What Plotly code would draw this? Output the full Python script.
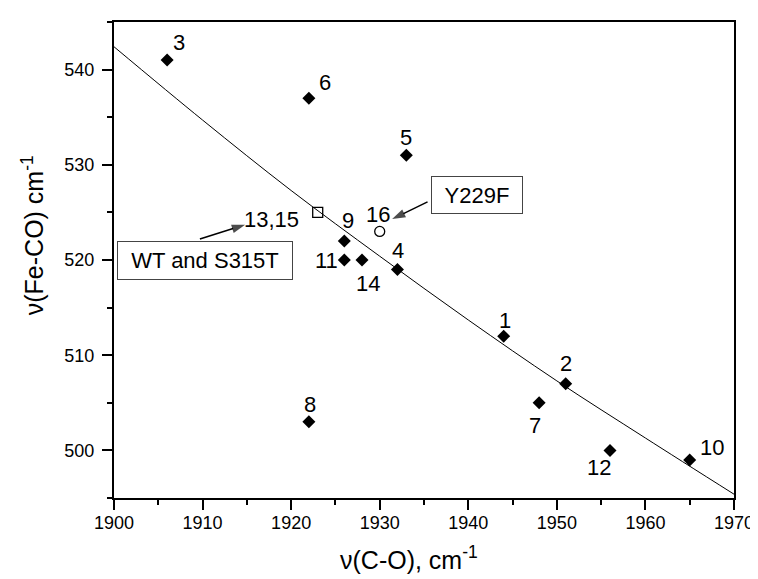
import plotly.graph_objects as go

# Data
labels = ["1", "2", "3", "4", "5", "6", "7", "8", "9", "10", "11", "12", "14"]
nu_co = [1944, 1951, 1906, 1932, 1933, 1922, 1948, 1922, 1926, 1965, 1926, 1956, 1928]
nu_feco = [512, 507, 541, 519, 531, 537, 505, 503, 522, 499, 520, 500, 520]

wt_label = ["13,15"]
wt_x = [1923]
wt_y = [525]

y229f_label = ["16"]
y229f_x = [1930]
y229f_y = [523]

fit_x = [1900, 1910, 1920, 1930, 1940, 1950, 1960, 1970]
fit_y = [542.4, 534.7, 527.3, 520.4, 513.7, 507.3, 501.3, 495.4]

x_ticks = [1900, 1910, 1920, 1930, 1940, 1950, 1960, 1970]
y_ticks = [500, 510, 520, 530, 540]

# label offsets in pixels (dx right, dy down)
label_offsets = {
    "1": (1, -16), "2": (0, -20), "3": (12, -18), "4": (1, -19), "5": (0, -18),
    "6": (16, -16), "7": (-4, 23), "8": (1, -17), "9": (4, -20), "10": (22, -12),
    "11": (-18, 0), "12": (-11, 17), "14": (6, 23), "13,15": (-46, 7), "16": (-2, -17),
}

FONT = "Liberation Sans, Arial, sans-serif"

fig = go.Figure()

fig.add_trace(go.Scatter(
    x=fit_x, y=fit_y, mode="lines", line=dict(color="black", width=1, shape="spline"),
    showlegend=False, hoverinfo="skip"))

fig.add_trace(go.Scatter(
    x=nu_co, y=nu_feco, mode="markers",
    marker=dict(symbol="diamond", size=10, color="black", line=dict(width=0)),
    showlegend=False))

fig.add_trace(go.Scatter(
    x=wt_x, y=wt_y, mode="markers",
    marker=dict(symbol="square-open", size=10, color="black", line=dict(width=1.3)),
    showlegend=False))

fig.add_trace(go.Scatter(
    x=y229f_x, y=y229f_y, mode="markers",
    marker=dict(symbol="circle-open", size=10, color="black", line=dict(width=1.3)),
    showlegend=False))

# callout arrows (tail -> head)
for ax_, ay_, hx, hy in [(1909.7, 522.2, 1914.8, 523.7), (1935.4, 526.1, 1931.4, 524.3)]:
    fig.add_trace(go.Scatter(
        x=[ax_, hx], y=[ay_, hy], mode="lines+markers",
        line=dict(color="black", width=1.5),
        marker=dict(symbol=["circle", "arrow"], size=[0, 14], color="black",
                    angleref="previous", line=dict(width=0)),
        showlegend=False, hoverinfo="skip"))

annotations = []
for lab, xv, yv in list(zip(labels, nu_co, nu_feco)) + \
        list(zip(wt_label, wt_x, wt_y)) + list(zip(y229f_label, y229f_x, y229f_y)):
    dx, dy = label_offsets[lab]
    annotations.append(dict(
        x=xv, y=yv, xref="x", yref="y", text=lab, showarrow=False,
        xshift=dx, yshift=-dy, font=dict(family=FONT, size=22, color="black")))

# boxed labels
annotations.append(dict(
    x=1910.3, y=519.9, xref="x", yref="y", text="WT and S315T", showarrow=False,
    font=dict(family=FONT, size=22, color="black"), bordercolor="#444", borderwidth=1,
    borderpad=3, width=168, height=31, bgcolor="white"))
annotations.append(dict(
    x=1940.95, y=526.8, xref="x", yref="y", text="Y229F", showarrow=False,
    font=dict(family=FONT, size=22, color="black"), bordercolor="#444", borderwidth=1,
    borderpad=3, width=84, height=30, bgcolor="white"))

# axis titles
annotations.append(dict(
    x=0.4757, y=-0.125, xref="paper", yref="paper", text="ν(C-O), cm<sup>-1</sup>",
    showarrow=False, xanchor="center", yanchor="middle",
    font=dict(family=FONT, size=25, color="black")))
annotations.append(dict(
    x=0, y=0.552, xref="paper", yref="paper", xshift=-81, text="ν(Fe-CO) cm<sup>-1</sup>",
    showarrow=False, xanchor="center", yanchor="middle", textangle=-90,
    font=dict(family=FONT, size=25, color="black")))

fig.update_layout(
    width=758, height=579,
    margin=dict(l=106, r=27, t=13, b=89),
    paper_bgcolor="white", plot_bgcolor="white",
    font=dict(family=FONT, size=18, color="black"),
    annotations=annotations,
    showlegend=False,
)

fig.update_xaxes(
    range=[1900, 1970], tickvals=x_ticks, ticktext=[str(v) for v in x_ticks],
    showgrid=False, zeroline=False,
    showline=True, linecolor="black", linewidth=2, mirror=True,
    ticks="outside", ticklen=10, tickwidth=2, tickcolor="black", ticklabelstandoff=-3,
    minor=dict(dtick=5, tick0=1900, ticks="outside", ticklen=5, tickwidth=2, tickcolor="black"),
    tickfont=dict(family=FONT, size=18, color="black"),
)
fig.update_yaxes(
    range=[495, 545], tickvals=y_ticks, ticktext=[str(v) for v in y_ticks],
    showgrid=False, zeroline=False,
    showline=True, linecolor="black", linewidth=2, mirror=True,
    ticks="outside", ticklen=10, tickwidth=2, tickcolor="black", ticklabelstandoff=4,
    minor=dict(dtick=5, tick0=495, ticks="outside", ticklen=5, tickwidth=2, tickcolor="black"),
    tickfont=dict(family=FONT, size=18, color="black"),
)

fig.write_html("out.html")
